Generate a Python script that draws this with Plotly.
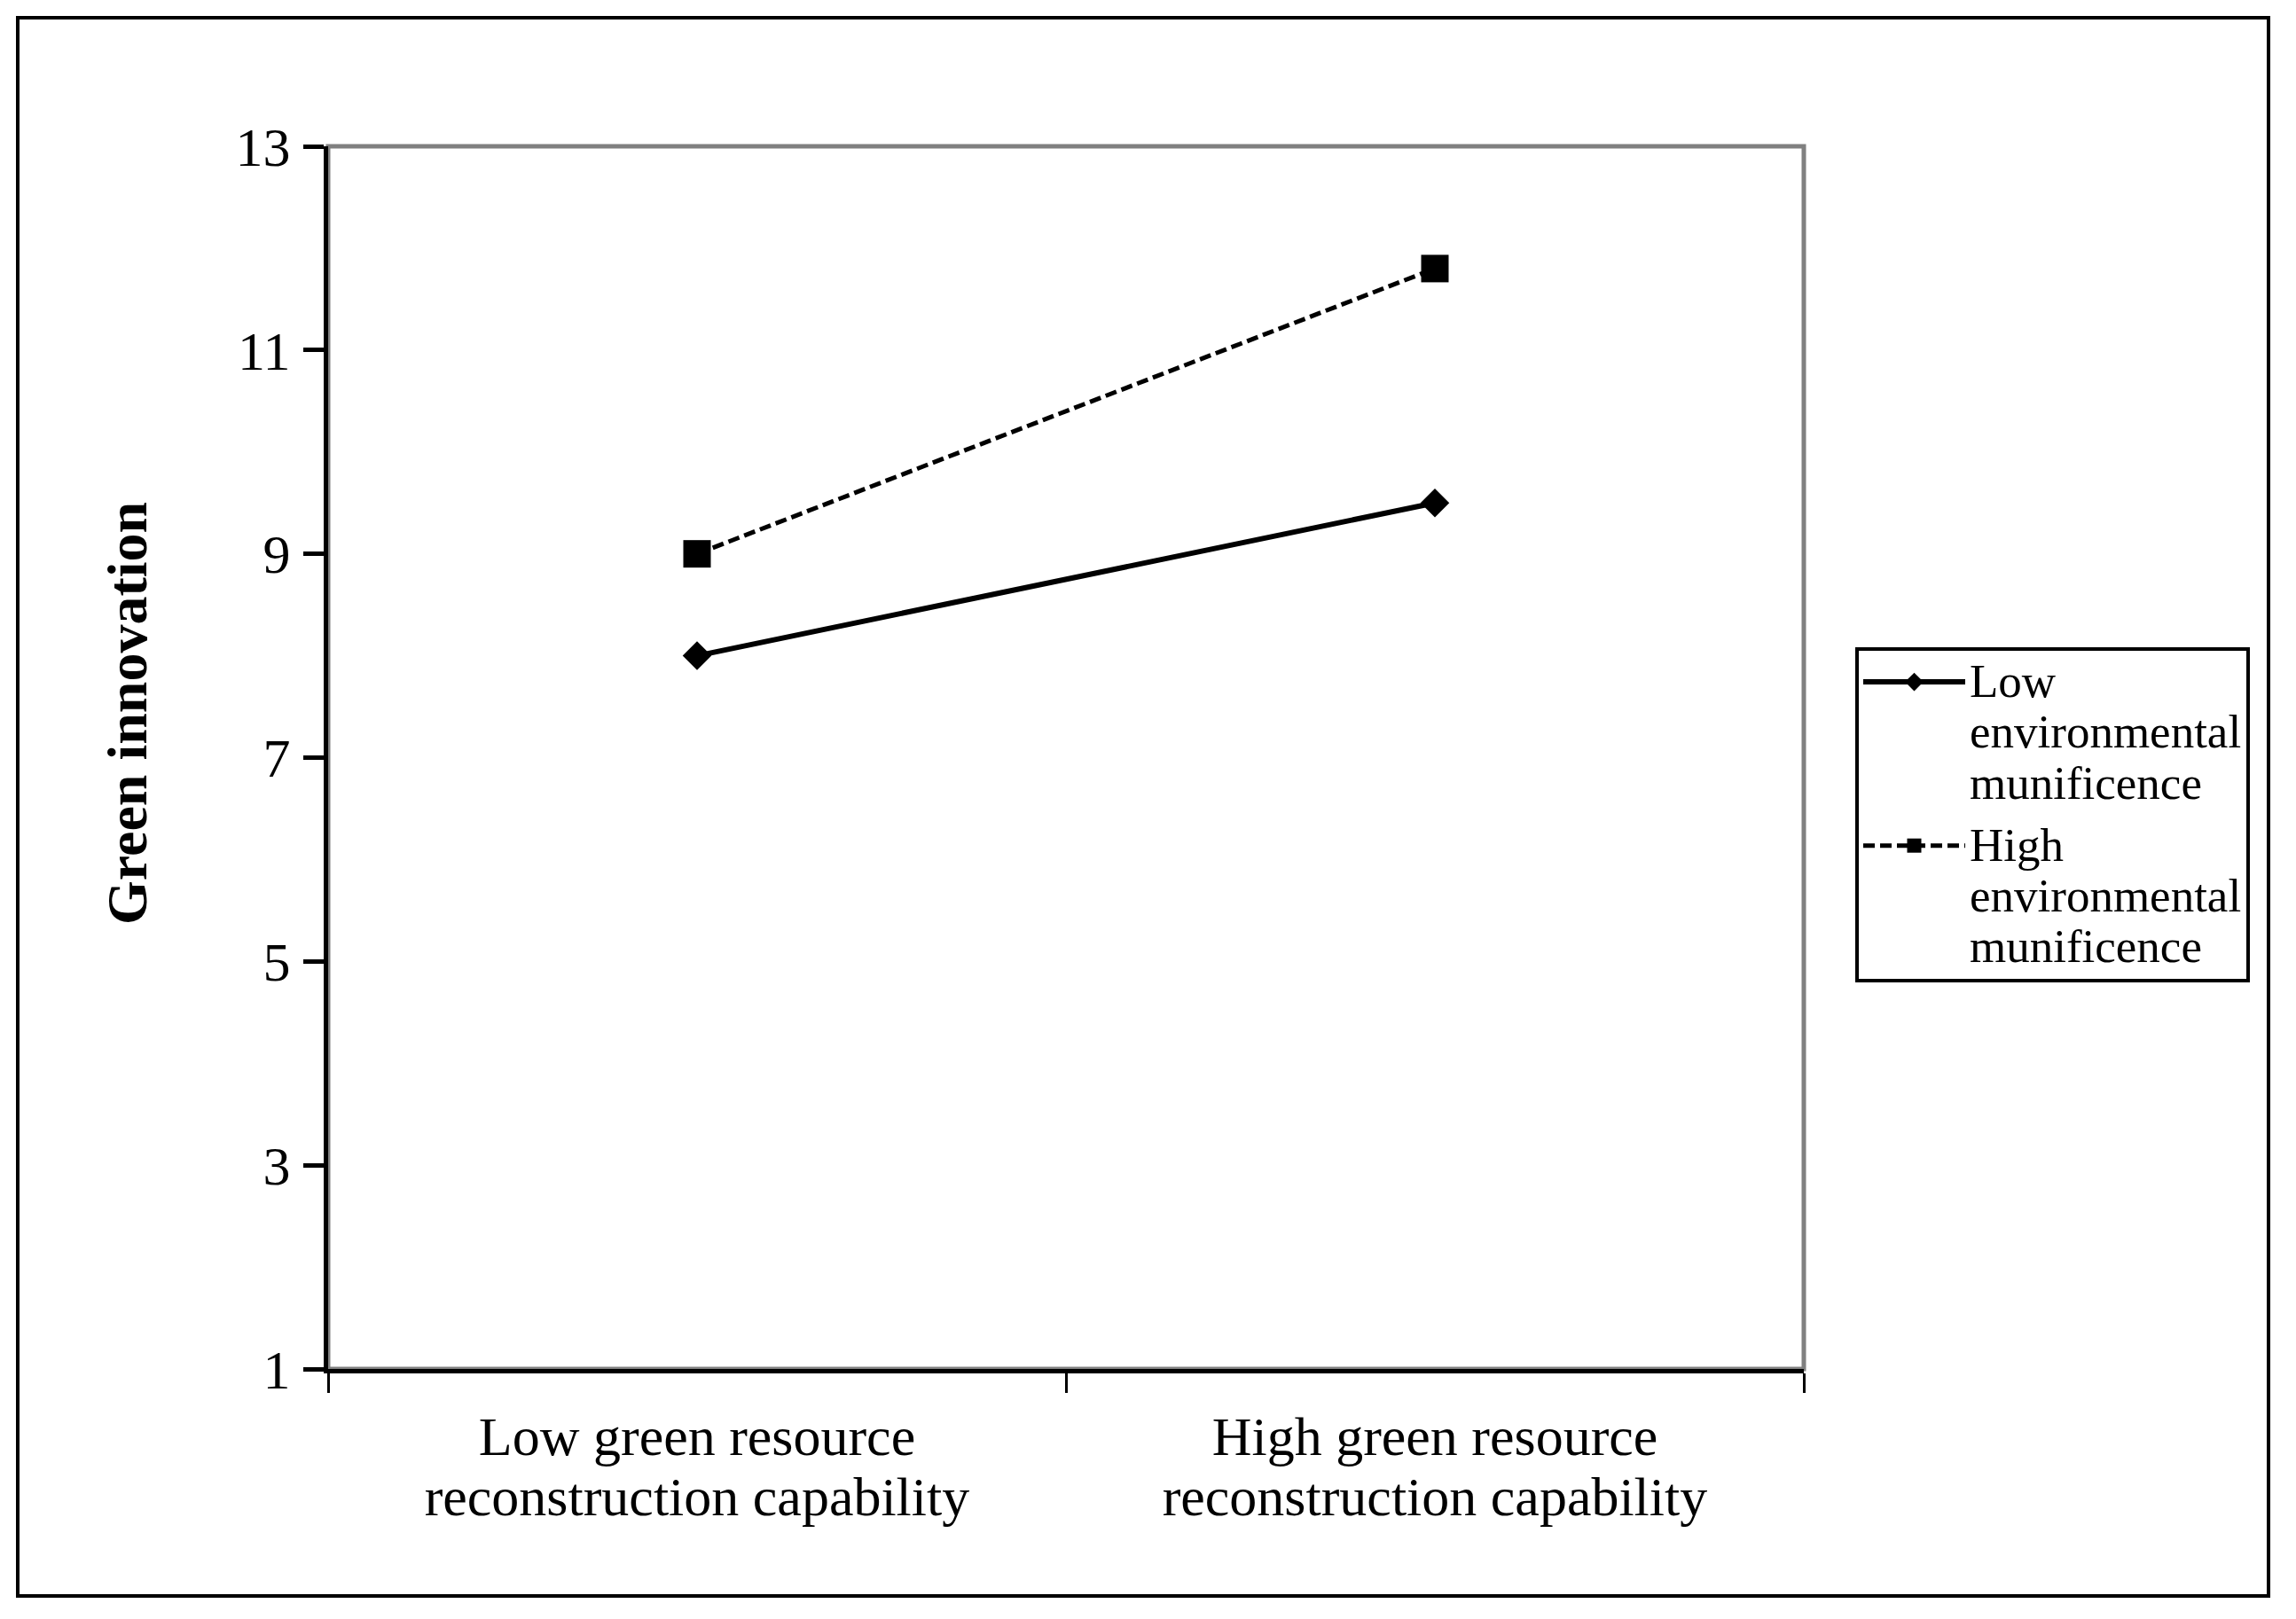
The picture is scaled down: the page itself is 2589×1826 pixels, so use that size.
import plotly.graph_objects as go

categories = ["Low green resource<br>reconstruction capability",
              "High green resource<br>reconstruction capability"]
low_env = [8.0, 9.5]
high_env = [9.0, 11.8]
series_names = ["Low<br>environmental<br>munificence",
                "High<br>environmental<br>munificence"]
y_ticks = [1, 3, 5, 7, 9, 11, 13]
y_title = "Green innovation"

FONT = "Liberation Serif, Times New Roman, serif"
W, H = 2589, 1826
OFF = 8  # page body margin
# plot-area edges as seen in the screenshot
SL, ST, PW, PH = 370, 165, 1664, 1379
L, T = SL - OFF, ST - OFF
FW, FH = W - 2 * OFF, H - 2 * OFF
R, B = FW - L - PW, FH - T - PH


def big(txt, px):
    return "<br>".join(f'<span style="font-size:{px}px">{p}</span>' for p in txt.split("<br>"))


fig = go.Figure()
fig.add_trace(go.Scatter(
    x=categories, y=low_env, name=big(series_names[0], 53), mode="lines+markers",
    legendgroup="low",
    line=dict(color="black", width=6, dash="solid"),
    marker=dict(symbol="diamond", size=25, color="black"),
))
fig.add_trace(go.Scatter(
    x=categories, y=high_env, name=big(series_names[1], 53), mode="lines+markers",
    legendgroup="high",
    line=dict(color="black", width=5, dash="13px,6px"),
    marker=dict(symbol="square", size=31, color="black"),
))

# gray plot-area frame
fig.add_shape(type="rect", xref="paper", yref="paper", x0=0, x1=1, y0=0, y1=1,
              line=dict(color="#808080", width=5), layer="below")
# outer figure border
fig.add_shape(type="rect", xref="paper", yref="paper",
              x0=(20 - SL) / PW, x1=(2558 - SL) / PW,
              y0=(PH - (1800 - ST)) / PH, y1=(PH - (20 - ST)) / PH,
              line=dict(color="black", width=4))

fig.add_annotation(
    text=f"<b>{y_title}</b>", textangle=-90, showarrow=False,
    xref="paper", yref="paper",
    x=(143 - SL) / PW, y=(PH - (805 - ST)) / PH, xanchor="center", yanchor="middle",
    font=dict(family=FONT, size=64, color="black"),
)

fig.update_layout(
    width=FW, height=FH,
    margin=dict(l=L, r=R, t=T, b=B),
    paper_bgcolor="white", plot_bgcolor="white",
    font=dict(family=FONT, color="black", size=60),
    showlegend=True,
    legend=dict(
        x=(2092 - SL) / PW, y=(PH - (730 - ST)) / PH, xanchor="left", yanchor="top",
        bordercolor="black", borderwidth=4, bgcolor="white",
        font=dict(family=FONT, size=44, color="black"),
        valign="top", tracegroupgap=10, itemwidth=115,
    ),
    xaxis=dict(
        type="category", range=[-0.5, 1.5], tickson="boundaries",
        tickvals=categories, ticktext=[big(c, 62) for c in categories],
        showline=True, linecolor="black", linewidth=5,
        ticks="outside", ticklen=22, tickwidth=3, tickcolor="black",
        showgrid=False, zeroline=False, ticklabelstandoff=30,
        tickfont=dict(family=FONT, size=52, color="black"),
    ),
    yaxis=dict(
        range=[1, 13], tickvals=y_ticks, ticktext=[str(v) for v in y_ticks],
        showline=True, linecolor="black", linewidth=5,
        ticks="outside", ticklen=23, tickwidth=5, tickcolor="black",
        showgrid=False, zeroline=False, ticklabelstandoff=2,
        tickfont=dict(family=FONT, size=62, color="black"),
    ),
)

fig.write_html("out.html")
